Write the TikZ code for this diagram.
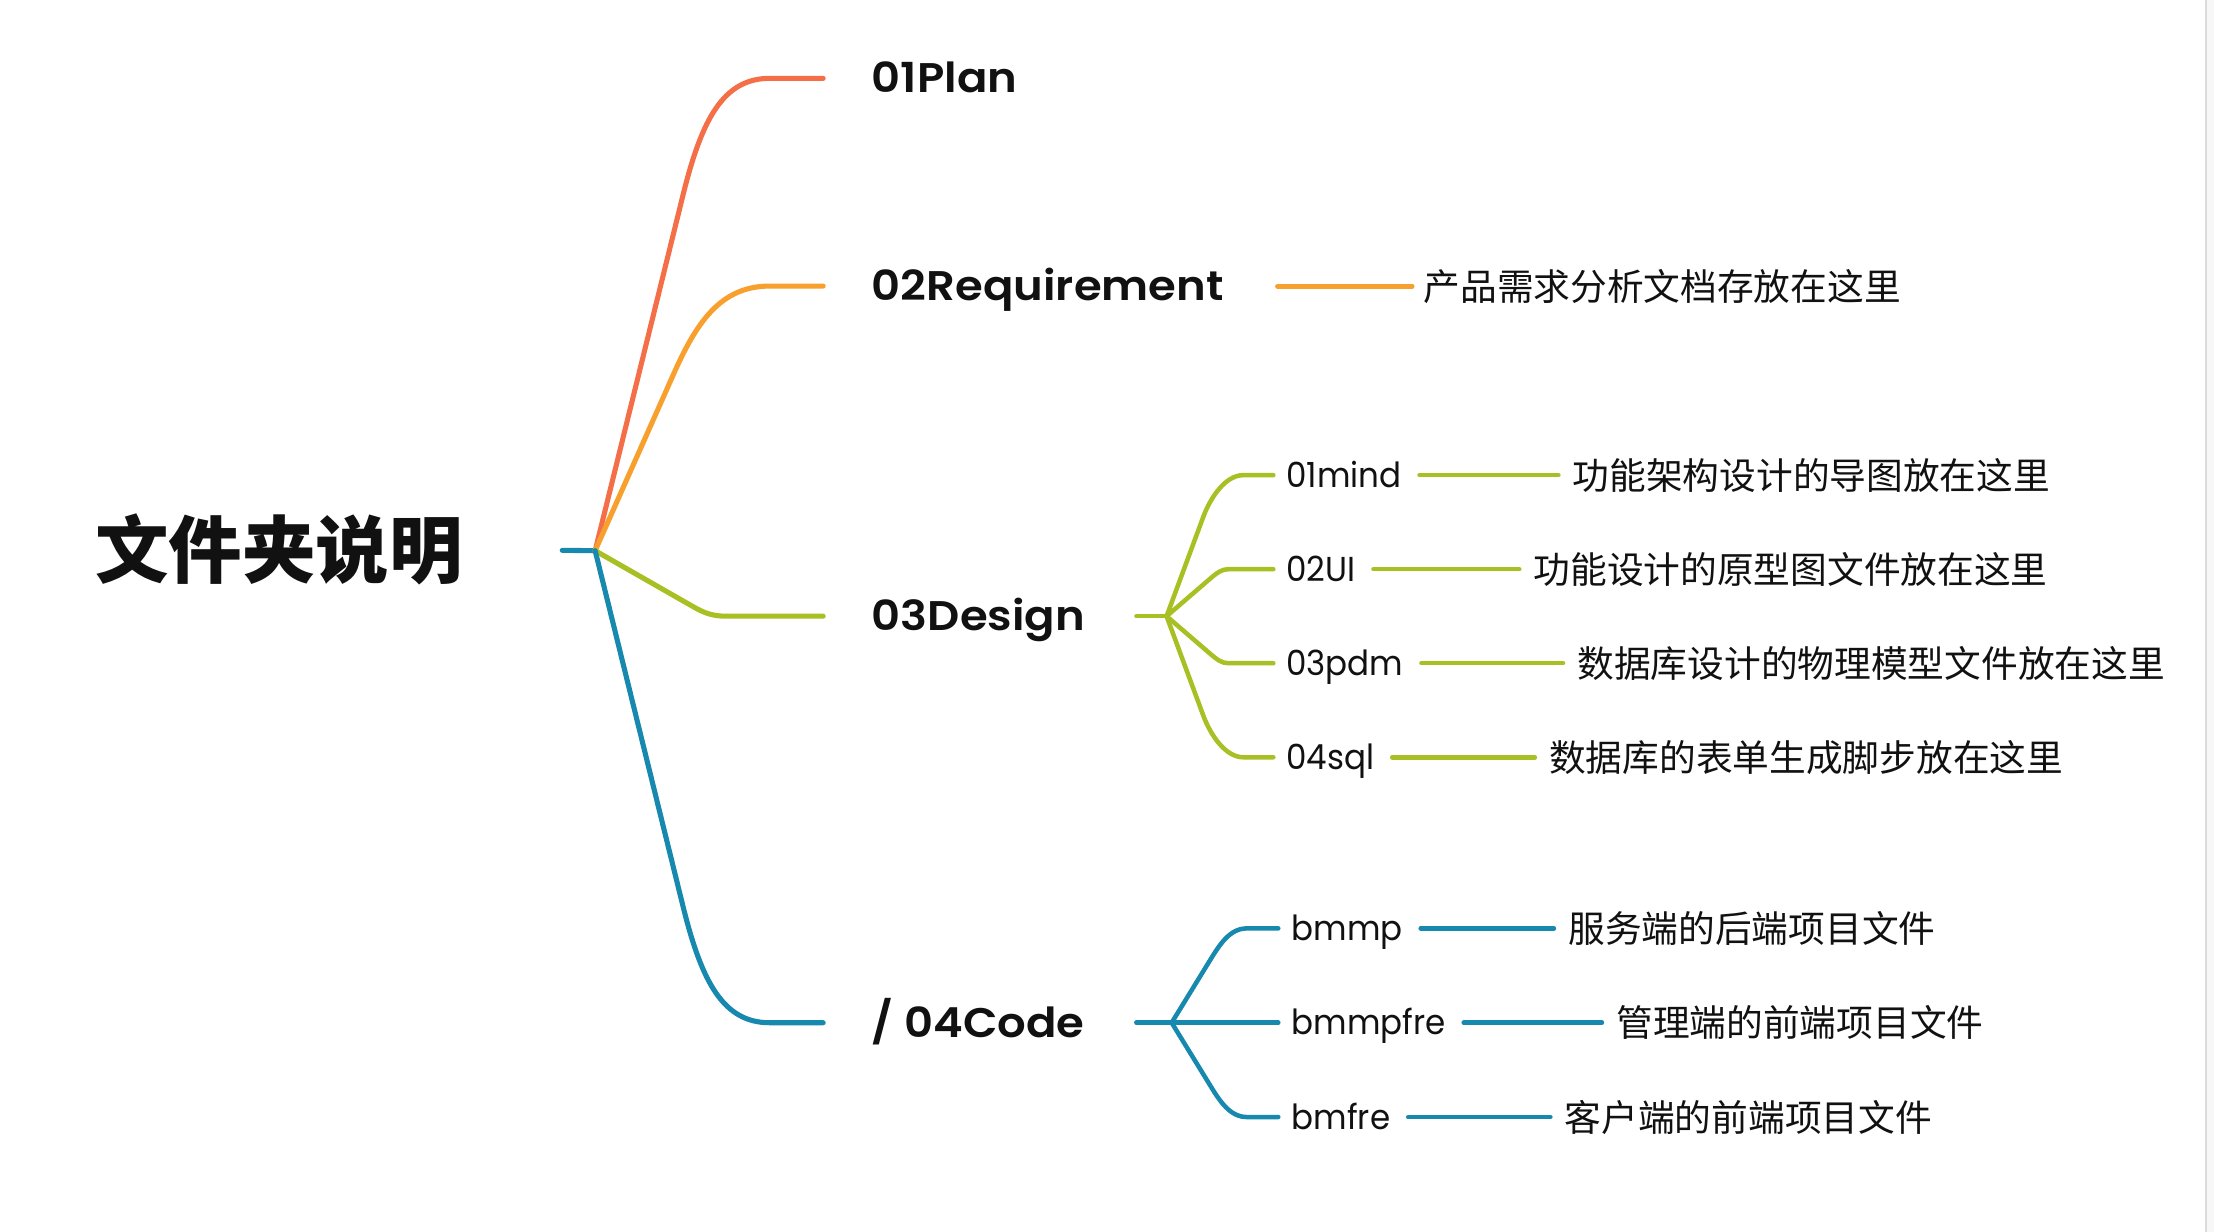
\documentclass[tikz,border=0pt]{standalone}
\usepackage{fontspec}
\setmainfont{Poppins}
\newfontfamily\headfont{Poppins SemiBold}[FakeStretch=1.086]
\newfontfamily\subfont{Poppins}[FakeStretch=0.94]
\newfontfamily\cjk{Noto Sans CJK SC}
\definecolor{cRed}{HTML}{F46F47}
\definecolor{cOrange}{HTML}{F8A02E}
\definecolor{cGreen}{HTML}{A8C023}
\definecolor{cBlue}{HTML}{1788AE}
\definecolor{ink}{HTML}{111111}
\tikzset{
  mainline/.style={line width=3.6pt, line cap=round, line join=round},
  subline/.style={line width=3.2pt, line cap=round, line join=round},
  headlbl/.style={anchor=west, inner sep=0pt, text=ink, font=\headfont\fontsize{29.3}{31}\selectfont, text height=20.5pt, text depth=0pt},
  sublbl/.style={anchor=west, inner sep=0pt, text=ink, font=\subfont\fontsize{24.5}{26}\selectfont, text height=17.2pt, text depth=0pt},
  desclbl/.style={anchor=west, inner sep=0pt, text=ink, font=\cjk\fontsize{26}{28}\selectfont},
}
\begin{document}
\begin{tikzpicture}[x=1pt,y=-1pt]
\useasboundingbox (0,0) rectangle (1568,872.5);
\fill[white] (0,0) rectangle (1568,872.5);
\fill[black!3] (1562.3,0) rectangle (1568,872.5);
\draw[black!14, line width=1pt] (1562.3,0) -- (1562.3,872.5);

% root
\node[inner sep=0pt, text=ink, font=\cjk\bfseries\fontsize{52}{54}\selectfont] (root) at (197.5,389) {文件夹说明};
\coordinate (f0) at (421.5,390);

% headings
\node[headlbl] (h1) at (617.3,55.5) {01Plan};
\node[headlbl] (h2) at (617.3,202.6) {02Requirement};
\node[headlbl] (h3) at (617.3,436.4) {03Design};
\node[headlbl] (h4) at (617.3,724.3) {/ 04Code};

\draw[mainline, cBlue, shorten <=70.5pt] (root.east) -- (f0);
\draw[mainline, cRed, shorten >=34.3pt] (f0) -- (484,137) .. controls (497,85) and (512,55.5) .. (545,55.5) -- (h1.west);
\draw[mainline, cOrange, shorten >=34.3pt] (f0) -- (477,265) .. controls (493,229) and (510,202.6) .. (545,202.6) -- (h2.west);
\draw[mainline, cGreen, shorten >=34.3pt] (f0) -- (491,429.7) .. controls (499,434.3) and (505,436.4) .. (514.6,436.4) -- (h3.west);
\draw[mainline, cBlue, shorten >=34.3pt] (f0) -- (484,643) .. controls (497,695) and (512,724.3) .. (545,724.3) -- (h4.west);

% 02Requirement description
\node[desclbl] (d2) at (1008,202.6) {产品需求分析文档存放在这里};
\draw[mainline, cOrange, shorten <=38pt, shorten >=8pt] (h2.east) -- (d2.west);

% 03Design children
\coordinate (f3) at (826.2,436.4);
\draw[subline, cGreen, shorten <=36.3pt] (h3.east) -- (f3);
\node[sublbl] (s31) at (910.8,336.5) {01mind};
\node[sublbl] (s32) at (910.8,403.1) {02UI};
\node[sublbl] (s33) at (910.8,469.7) {03pdm};
\node[sublbl] (s34) at (910.8,536.3) {04sql};
\draw[subline, cGreen, shorten >=9pt] (f3) -- (852.2,366) .. controls (857.4,352) and (868,336.5) .. (880.5,336.5) -- (s31.west);
\draw[subline, cGreen, shorten >=9pt] (f3) -- (855.8,410.9) .. controls (861.8,405.7) and (865,403.1) .. (870,403.1) -- (s32.west);
\draw[subline, cGreen, shorten >=9pt] (f3) -- (855.8,461.9) .. controls (861.8,467.1) and (865,469.7) .. (870,469.7) -- (s33.west);
\draw[subline, cGreen, shorten >=9pt] (f3) -- (852.2,506.8) .. controls (857.4,520.8) and (868,536.3) .. (880.5,536.3) -- (s34.west);

\node[desclbl] (d31) at (1113.7,336.5) {功能架构设计的导图放在这里};
\node[desclbl] (d32) at (1086,403.1) {功能设计的原型图文件放在这里};
\node[desclbl] (d33) at (1117,469.7) {数据库设计的物理模型文件放在这里};
\node[desclbl] (d34) at (1097,536.3) {数据库的表单生成脚步放在这里};
\draw[subline, cGreen, shorten <=12.6pt, shorten >=10pt] (s31.east) -- (d31.west);
\draw[subline, cGreen, shorten <=12.6pt, shorten >=10pt] (s32.east) -- (d32.west);
\draw[subline, cGreen, shorten <=12.6pt, shorten >=10pt] (s33.east) -- (d33.west);
\draw[subline, cGreen, shorten <=12.6pt, shorten >=10pt] (s34.east) -- (d34.west);

% 04Code children
\coordinate (f4) at (829.8,724.3);
\draw[subline, cBlue, shorten <=36.5pt] (h4.east) -- (f4);
\node[sublbl] (s41) at (914.6,657.5) {bmmp};
\node[sublbl] (s42) at (914.6,724.3) {bmmpfre};
\node[sublbl] (s43) at (914.6,791.1) {bmfre};
\draw[subline, cBlue, shorten >=9.3pt] (f4) -- (857,680) .. controls (863.8,668.9) and (871,657.5) .. (883,657.5) -- (s41.west);
\draw[subline, cBlue, shorten >=9.3pt] (f4) -- (s42.west);
\draw[subline, cBlue, shorten >=9.3pt] (f4) -- (857,768.6) .. controls (863.8,779.7) and (871,791.1) .. (883,791.1) -- (s43.west);

\node[desclbl] (d41) at (1110.5,657.5) {服务端的后端项目文件};
\node[desclbl] (d42) at (1144.5,724.3) {管理端的前端项目文件};
\node[desclbl] (d43) at (1108,791.1) {客户端的前端项目文件};
\draw[subline, cBlue, shorten <=12.6pt, shorten >=10pt] (s41.east) -- (d41.west);
\draw[subline, cBlue, shorten <=12.6pt, shorten >=10pt] (s42.east) -- (d42.west);
\draw[subline, cBlue, shorten <=12.6pt, shorten >=10pt] (s43.east) -- (d43.west);
\end{tikzpicture}
\end{document}
